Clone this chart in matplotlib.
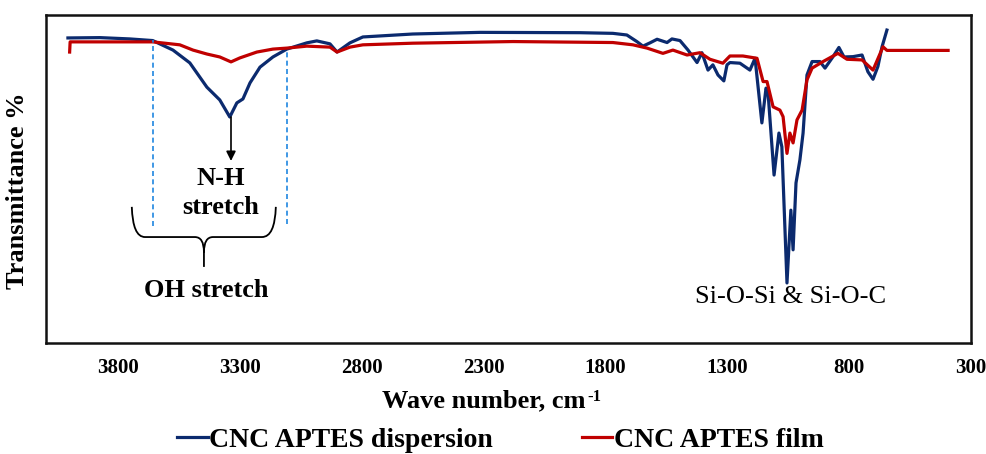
"""FTIR spectra of CNC APTES dispersion and film."""
import matplotlib
matplotlib.use('Agg')
import matplotlib.pyplot as plt
from matplotlib.path import Path
from matplotlib.patches import PathPatch
import numpy as np

plt.rcParams['font.family'] = ['Liberation Serif', 'DejaVu Serif']

# wavenumber (cm-1) and transmittance (arb. %)
wn_disp = [4005, 3874, 3751, 3657, 3574, 3505, 3435, 3382, 3341, 3312, 3287,
           3258, 3217, 3164, 3107, 3025, 2984, 2930, 2901, 2848, 2795, 2590,
           2315, 1904, 1769, 1712, 1671, 1646, 1617, 1588, 1547, 1527, 1494,
           1461, 1424, 1404, 1379, 1359, 1338, 1314, 1301, 1289, 1248, 1207,
           1186, 1178, 1158, 1141, 1133, 1108, 1088, 1076, 1055, 1039, 1030,
           1018, 1002, 989, 973, 952, 920, 899, 866, 842, 821, 784, 747, 723,
           702, 682, 665, 645]
t_disp = [93.0, 93.1, 92.7, 92.2, 89.3, 85.4, 78.0, 74.1, 68.9, 73.2, 74.4,
          79.3, 84.1, 87.2, 89.6, 91.5, 92.1, 91.2, 88.7, 91.5, 93.3, 94.2,
          94.7, 94.6, 94.4, 93.9, 91.9, 90.5, 91.5, 92.6, 91.6, 92.7, 92.2,
          89.3, 85.5, 88.5, 83.2, 84.8, 81.7, 79.9, 84.8, 85.5, 85.3, 83.2,
          86.8, 81.2, 67.1, 77.7, 76.6, 51.2, 64.0, 59.8, 18.3, 40.5, 28.4,
          48.8, 55.8, 64.0, 81.7, 85.8, 85.8, 83.8, 87.3, 90.1, 87.2, 87.3,
          87.8, 82.7, 80.4, 84.3, 90.3, 95.4]

wn_film = [3998, 3996, 3657, 3546, 3492, 3435, 3382, 3336, 3300, 3230, 3164,
           3107, 3025, 2930, 2901, 2848, 2795, 2590, 2179, 1769, 1687, 1629,
           1564, 1523, 1465, 1412, 1371, 1318, 1289, 1236, 1178, 1153, 1137,
           1112, 1084, 1071, 1055, 1043, 1030, 1014, 993, 973, 952, 907, 846,
           809, 747, 702, 661, 645, 394]
t_film = [88.7, 91.8, 91.8, 90.9, 89.3, 88.1, 87.2, 85.7, 86.9, 88.7, 89.6,
          89.9, 90.5, 90.2, 88.7, 90.2, 90.9, 91.4, 91.9, 91.6, 90.9, 89.9,
          88.3, 89.3, 87.8, 88.5, 86.5, 85.3, 87.5, 87.5, 86.8, 79.7, 79.7,
          72.0, 71.0, 69.0, 57.8, 64.0, 61.0, 68.0, 71.0, 80.2, 83.8, 85.8,
          88.3, 86.5, 86.3, 83.2, 90.3, 89.2, 89.2]

xticks = [3800, 3300, 2800, 2300, 1800, 1300, 800, 300]

fig = plt.figure(figsize=(9.87, 4.54), dpi=100)
ax = fig.add_axes([0.0466, 0.2445, 0.9372, 0.7225])

l1, = ax.plot(wn_disp, t_disp, color='#0b2a6e', lw=2.3, label='CNC APTES dispersion')
l2, = ax.plot(wn_film, t_film, color='#c00000', lw=2.3, label='CNC APTES film')

ax.set_xlim(4095, 300)
ax.set_ylim(0, 100)
ax.set_xticks(xticks)
ax.set_yticks([])
ax.tick_params(axis='x', length=0, pad=11, labelsize=15)
for lab in ax.get_xticklabels():
    lab.set_fontweight('bold')
for sp in ax.spines.values():
    sp.set_linewidth(1.8)
    sp.set_color('#111111')

# OH band limits
dash = dict(color='#1f86e0', lw=1.2, ls=(0, (3, 2)))
ax.plot([3657, 3657], [35.7, 92.4], **dash)
ax.plot([3107, 3107], [36.3, 89.6], **dash)

# N-H arrow
ax.annotate('', xy=(3336, 55.5), xytext=(3336, 68.9),
            arrowprops=dict(arrowstyle='-|>', color='black', lw=1.2,
                            mutation_scale=14, shrinkA=0, shrinkB=0))
ax.text(3377, 50.3, 'N-H', ha='center', va='center', fontsize=19, fontweight='bold')
ax.text(3377, 41.2, 'stretch', ha='center', va='center', fontsize=19, fontweight='bold')

# curly brace under the OH region
verts = [(3743, 41.5), (3739, 32.3), (3689, 32.3), (3484, 32.3),
         (3447, 32.3), (3447, 27.7), (3447, 23.2),
         (3447, 27.7), (3447, 32.3), (3410, 32.3), (3209, 32.3),
         (3156, 32.3), (3152, 41.5)]
codes = [Path.MOVETO, Path.CURVE3, Path.CURVE3, Path.LINETO,
         Path.CURVE3, Path.CURVE3, Path.LINETO,
         Path.MOVETO, Path.CURVE3, Path.CURVE3, Path.LINETO,
         Path.CURVE3, Path.CURVE3]
ax.add_patch(PathPatch(Path(verts, codes), fill=False, lw=1.3, color='black'))
ax.text(3439, 15.9, 'OH stretch', ha='center', va='center', fontsize=19, fontweight='bold')

ax.text(1039, 14.0, 'Si-O-Si & Si-O-C', ha='center', va='center', fontsize=19)

fig.text(0.018, 0.579, 'Transmittance %', rotation=90, ha='center', va='center',
         fontsize=19, fontweight='bold')

# x label with a plain-text superscript
xl = fig.text(0.490, 0.117, 'Wave number, cm', ha='center', va='center',
              fontsize=19, fontweight='bold')
fig.canvas.draw()
bb = xl.get_window_extent()
W, H = fig.canvas.get_width_height()
fig.text(bb.x1 / W + 0.001, bb.y1 / H, '-1', ha='left', va='top',
         fontsize=12, fontweight='bold')

fig.legend(handles=[l1, l2], loc='center', bbox_to_anchor=(0.507, 0.031), ncol=2,
           frameon=False, handlelength=1.1, handletextpad=0.05, columnspacing=3.2,
           prop=dict(size=20, weight='bold'))

fig.savefig('out.png', dpi=100)
